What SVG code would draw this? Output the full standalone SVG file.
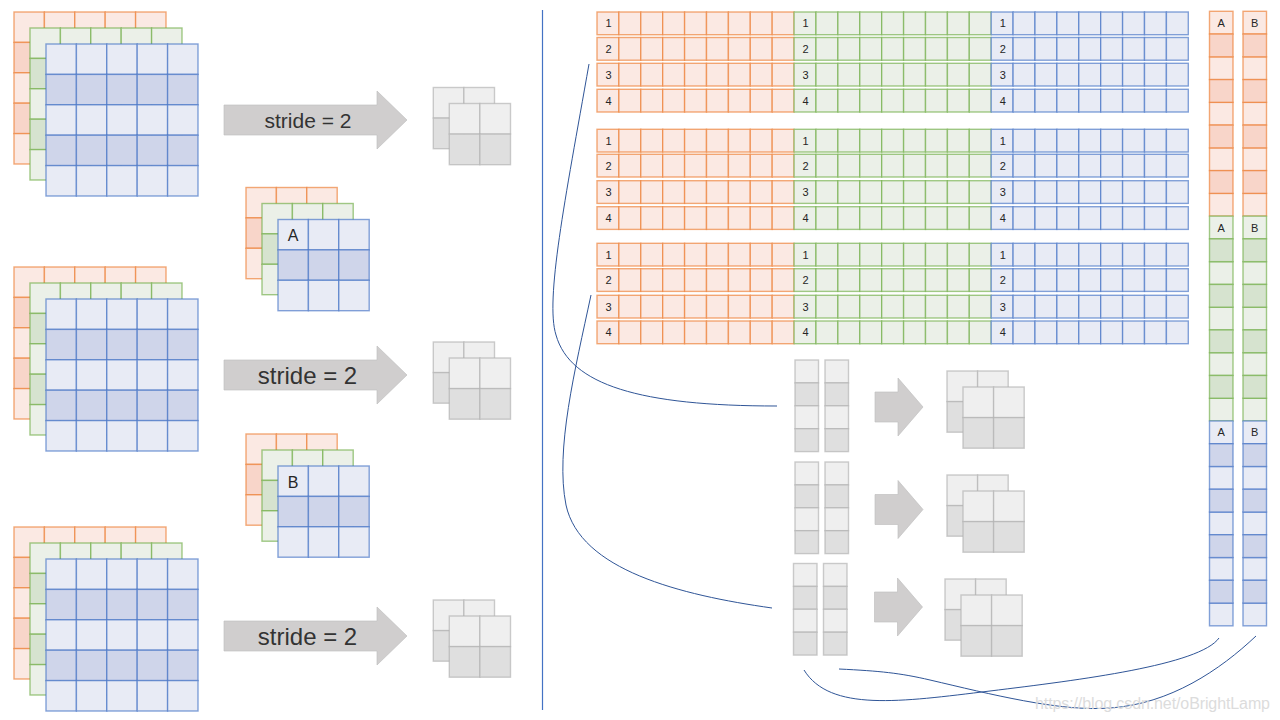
<svg xmlns="http://www.w3.org/2000/svg" width="1280" height="720" viewBox="0 0 1280 720">
<style>
text{font-family:"Liberation Sans",Arial,sans-serif;fill:#262626}
.st{font-size:21px;text-anchor:middle;fill:#333}
.st2{font-size:24px;text-anchor:middle;fill:#333}
.n{font-size:11px;text-anchor:middle}
.lab{font-size:16px;text-anchor:middle}
.cur{fill:none;stroke:#2f5597;stroke-width:1}
.arr{fill:#d0cece;stroke:#bfbfbf;stroke-width:1}
.wm{font-size:16px;fill:#dcdcdc}
.div{stroke:#4472c4;stroke-width:1.2}
</style>
<defs>
<g id="r5"><rect x="0" width="30.4" height="30.4"/><rect x="30.4" width="30.4" height="30.4"/><rect x="60.8" width="30.4" height="30.4"/><rect x="91.2" width="30.4" height="30.4"/><rect x="121.6" width="30.4" height="30.4"/></g>
<g id="G5o" stroke="#ed7d31"><use href="#r5" fill="#fbe9e3"/><use href="#r5" y="30.4" fill="#f8d5c9"/><use href="#r5" y="60.8" fill="#fbe9e3"/><use href="#r5" y="91.2" fill="#f8d5c9"/><use href="#r5" y="121.6" fill="#fbe9e3"/></g>
<g id="G5g" stroke="#70ad47"><use href="#r5" fill="#ebf0e8"/><use href="#r5" y="30.4" fill="#d6e3cf"/><use href="#r5" y="60.8" fill="#ebf0e8"/><use href="#r5" y="91.2" fill="#d6e3cf"/><use href="#r5" y="121.6" fill="#ebf0e8"/></g>
<g id="G5b" stroke="#4472c4"><use href="#r5" fill="#e8ebf5"/><use href="#r5" y="30.4" fill="#cfd5ea"/><use href="#r5" y="60.8" fill="#e8ebf5"/><use href="#r5" y="91.2" fill="#cfd5ea"/><use href="#r5" y="121.6" fill="#e8ebf5"/></g>
<g id="S5"><use href="#G5o"/><use href="#G5g" x="16" y="16"/><use href="#G5b" x="32" y="32"/></g>

<g id="r3"><rect x="0" width="30.4" height="30.4"/><rect x="30.4" width="30.4" height="30.4"/><rect x="60.8" width="30.4" height="30.4"/></g>
<g id="K3o" stroke="#ed7d31"><use href="#r3" fill="#fbe9e3"/><use href="#r3" y="30.4" fill="#f8d5c9"/><use href="#r3" y="60.8" fill="#fbe9e3"/></g>
<g id="K3g" stroke="#70ad47"><use href="#r3" fill="#ebf0e8"/><use href="#r3" y="30.4" fill="#d6e3cf"/><use href="#r3" y="60.8" fill="#ebf0e8"/></g>
<g id="K3b" stroke="#4472c4"><use href="#r3" fill="#e8ebf5"/><use href="#r3" y="30.4" fill="#cfd5ea"/><use href="#r3" y="60.8" fill="#e8ebf5"/></g>
<g id="K3"><use href="#K3o"/><use href="#K3g" x="16" y="16"/><use href="#K3b" x="32" y="32"/></g>

<g id="s9"><rect x="0" width="21.9" height="22.7"/><rect x="21.9" width="21.9" height="22.7"/><rect x="43.8" width="21.9" height="22.7"/><rect x="65.7" width="21.9" height="22.7"/><rect x="87.6" width="21.9" height="22.7"/><rect x="109.5" width="21.9" height="22.7"/><rect x="131.4" width="21.9" height="22.7"/><rect x="153.3" width="21.9" height="22.7"/><rect x="175.2" width="21.9" height="22.7"/></g>
<g id="ST"><use href="#s9" fill="#fbe9e3" stroke="#ed7d31"/><use href="#s9" x="197.1" fill="#ebf0e8" stroke="#70ad47"/><use href="#s9" x="394.2" fill="#e8ebf5" stroke="#4472c4"/></g>

<g id="c9L"><rect y="0" width="23.5" height="22.76"/><rect y="45.52" width="23.5" height="22.76"/><rect y="91.04" width="23.5" height="22.76"/><rect y="136.56" width="23.5" height="22.76"/><rect y="182.08" width="23.5" height="22.76"/></g>
<g id="c9D"><rect y="22.76" width="23.5" height="22.76"/><rect y="68.28" width="23.5" height="22.76"/><rect y="113.8" width="23.5" height="22.76"/><rect y="159.32" width="23.5" height="22.76"/></g>
<g id="COL"><g stroke="#ed7d31"><use href="#c9L" fill="#fbe9e3"/><use href="#c9D" fill="#f8d5c9"/></g><g stroke="#70ad47"><use href="#c9L" y="204.84" fill="#ebf0e8"/><use href="#c9D" y="204.84" fill="#d6e3cf"/></g><g stroke="#4472c4"><use href="#c9L" y="409.68" fill="#e8ebf5"/><use href="#c9D" y="409.68" fill="#cfd5ea"/></g></g>

<g id="gcol" stroke="#b0b0b0"><rect y="0" width="23.5" height="22.9" fill="#efefef"/><rect y="22.9" width="23.5" height="22.9" fill="#dfdfdf"/><rect y="45.8" width="23.5" height="22.9" fill="#efefef"/><rect y="68.7" width="23.5" height="22.9" fill="#dfdfdf"/></g>
<g id="gpair"><use href="#gcol"/><use href="#gcol" x="30"/></g>

<g id="q2" stroke="#b0b0b0"><rect x="0" y="0" width="30.6" height="30.6" fill="#efefef"/><rect x="30.6" y="0" width="30.6" height="30.6" fill="#efefef"/><rect x="0" y="30.6" width="30.6" height="30.6" fill="#dfdfdf"/><rect x="30.6" y="30.6" width="30.6" height="30.6" fill="#dfdfdf"/></g>
<g id="q2pair"><use href="#q2"/><use href="#q2" x="16" y="16"/></g>

<path id="bigArrow" class="arr" d="M0,-15 H153 V-29 L183,0 L153,29 V15 H0 Z"/>
<path id="smallArrow" class="arr" d="M0,-15 H23 V-29 L48,0 L23,29 V15 H0 Z"/>
</defs>

<rect width="1280" height="720" fill="#ffffff"/>

<g id="nodes" stroke-width="1.4" stroke-opacity="0.65">
 <g id="input1"><use href="#S5" x="14" y="12"/></g>
 <g id="input2"><use href="#S5" x="14" y="267"/></g>
 <g id="input3"><use href="#S5" x="14" y="527"/></g>

 <g id="kernelA"><use href="#K3" x="246" y="187.5"/><text class="lab" x="293.2" y="241">A</text></g>
 <g id="kernelB"><use href="#K3" x="246" y="434"/><text class="lab" x="293.2" y="488">B</text></g>

 <g id="stride1"><use href="#bigArrow" transform="translate(224,120)"/><text class="st" x="308" y="128">stride = 2</text></g>
 <g id="stride2"><use href="#bigArrow" transform="translate(224,375)"/><text class="st2" x="307.5" y="384">stride = 2</text></g>
 <g id="stride3"><use href="#bigArrow" transform="translate(224,636)"/><text class="st2" x="307.5" y="645">stride = 2</text></g>

 <g id="output1"><use href="#q2pair" x="433.3" y="87.5"/></g>
 <g id="output2"><use href="#q2pair" x="433.3" y="342"/></g>
 <g id="output3"><use href="#q2pair" x="433.3" y="600"/></g>

 <g id="matrix1">
  <use href="#ST" x="597" y="12"/><use href="#ST" x="597" y="37.5"/><use href="#ST" x="597" y="63.3"/><use href="#ST" x="597" y="89.3"/>
  <text class="n" x="608.6" y="27.3">1</text><text class="n" x="805.6" y="27.3">1</text><text class="n" x="1002.7" y="27.3">1</text>
  <text class="n" x="608.6" y="52.8">2</text><text class="n" x="805.6" y="52.8">2</text><text class="n" x="1002.7" y="52.8">2</text>
  <text class="n" x="608.6" y="78.6">3</text><text class="n" x="805.6" y="78.6">3</text><text class="n" x="1002.7" y="78.6">3</text>
  <text class="n" x="608.6" y="104.6">4</text><text class="n" x="805.6" y="104.6">4</text><text class="n" x="1002.7" y="104.6">4</text>
 </g>
 <g id="matrix2">
  <use href="#ST" x="597" y="129.3"/><use href="#ST" x="597" y="154.3"/><use href="#ST" x="597" y="180.7"/><use href="#ST" x="597" y="206.7"/>
  <text class="n" x="608.6" y="144.6">1</text><text class="n" x="805.6" y="144.6">1</text><text class="n" x="1002.7" y="144.6">1</text>
  <text class="n" x="608.6" y="169.6">2</text><text class="n" x="805.6" y="169.6">2</text><text class="n" x="1002.7" y="169.6">2</text>
  <text class="n" x="608.6" y="196">3</text><text class="n" x="805.6" y="196">3</text><text class="n" x="1002.7" y="196">3</text>
  <text class="n" x="608.6" y="222">4</text><text class="n" x="805.6" y="222">4</text><text class="n" x="1002.7" y="222">4</text>
 </g>
 <g id="matrix3">
  <use href="#ST" x="597" y="243.3"/><use href="#ST" x="597" y="268.7"/><use href="#ST" x="597" y="295.3"/><use href="#ST" x="597" y="321"/>
  <text class="n" x="608.6" y="258.6">1</text><text class="n" x="805.6" y="258.6">1</text><text class="n" x="1002.7" y="258.6">1</text>
  <text class="n" x="608.6" y="284">2</text><text class="n" x="805.6" y="284">2</text><text class="n" x="1002.7" y="284">2</text>
  <text class="n" x="608.6" y="310.6">3</text><text class="n" x="805.6" y="310.6">3</text><text class="n" x="1002.7" y="310.6">3</text>
  <text class="n" x="608.6" y="336.3">4</text><text class="n" x="805.6" y="336.3">4</text><text class="n" x="1002.7" y="336.3">4</text>
 </g>

 <g id="columnA"><use href="#COL" x="1209.5" y="11.3"/>
  <text class="n" x="1221.2" y="26.6">A</text><text class="n" x="1221.2" y="231.5">A</text><text class="n" x="1221.2" y="436.3">A</text></g>
 <g id="columnB"><use href="#COL" x="1243" y="11.3"/>
  <text class="n" x="1254.7" y="26.6">B</text><text class="n" x="1254.7" y="231.5">B</text><text class="n" x="1254.7" y="436.3">B</text></g>

 <g id="cols1"><use href="#gpair" x="795" y="360"/></g>
 <g id="cols2"><use href="#gpair" x="795" y="462"/></g>
 <g id="cols3"><use href="#gpair" x="793.5" y="563.5"/></g>

 <g id="reshape1"><use href="#smallArrow" transform="translate(875,407)"/></g>
 <g id="reshape2"><use href="#smallArrow" transform="translate(875,509.5)"/></g>
 <g id="reshape3"><use href="#smallArrow" transform="translate(874.5,607)"/></g>

 <g id="result1"><use href="#q2pair" x="947" y="371"/></g>
 <g id="result2"><use href="#q2pair" x="947" y="475"/></g>
 <g id="result3"><use href="#q2pair" x="945" y="579"/></g>
</g>

<g id="connectors">
 <line class="div" x1="542.5" y1="10" x2="542.5" y2="710"/>
 <path class="cur" d="M589,64 C565,200 545,300 556,335 C570,385 640,406 777,406"/>
 <path class="cur" d="M591,295 C575,370 555,450 566,505 C580,570 680,595 772,608"/>
 <path class="cur" d="M804,670 C830,712 900,702 990,691 C1080,680 1200,665 1219,638"/>
 <path class="cur" d="M839,669 C880,671 900,673 930,680 C990,694 1060,712 1110,708 C1170,704 1220,670 1256,636"/>
</g>

<text class="wm" x="1035" y="709" textLength="235">https://blog.csdn.net/oBrightLamp</text>
</svg>
